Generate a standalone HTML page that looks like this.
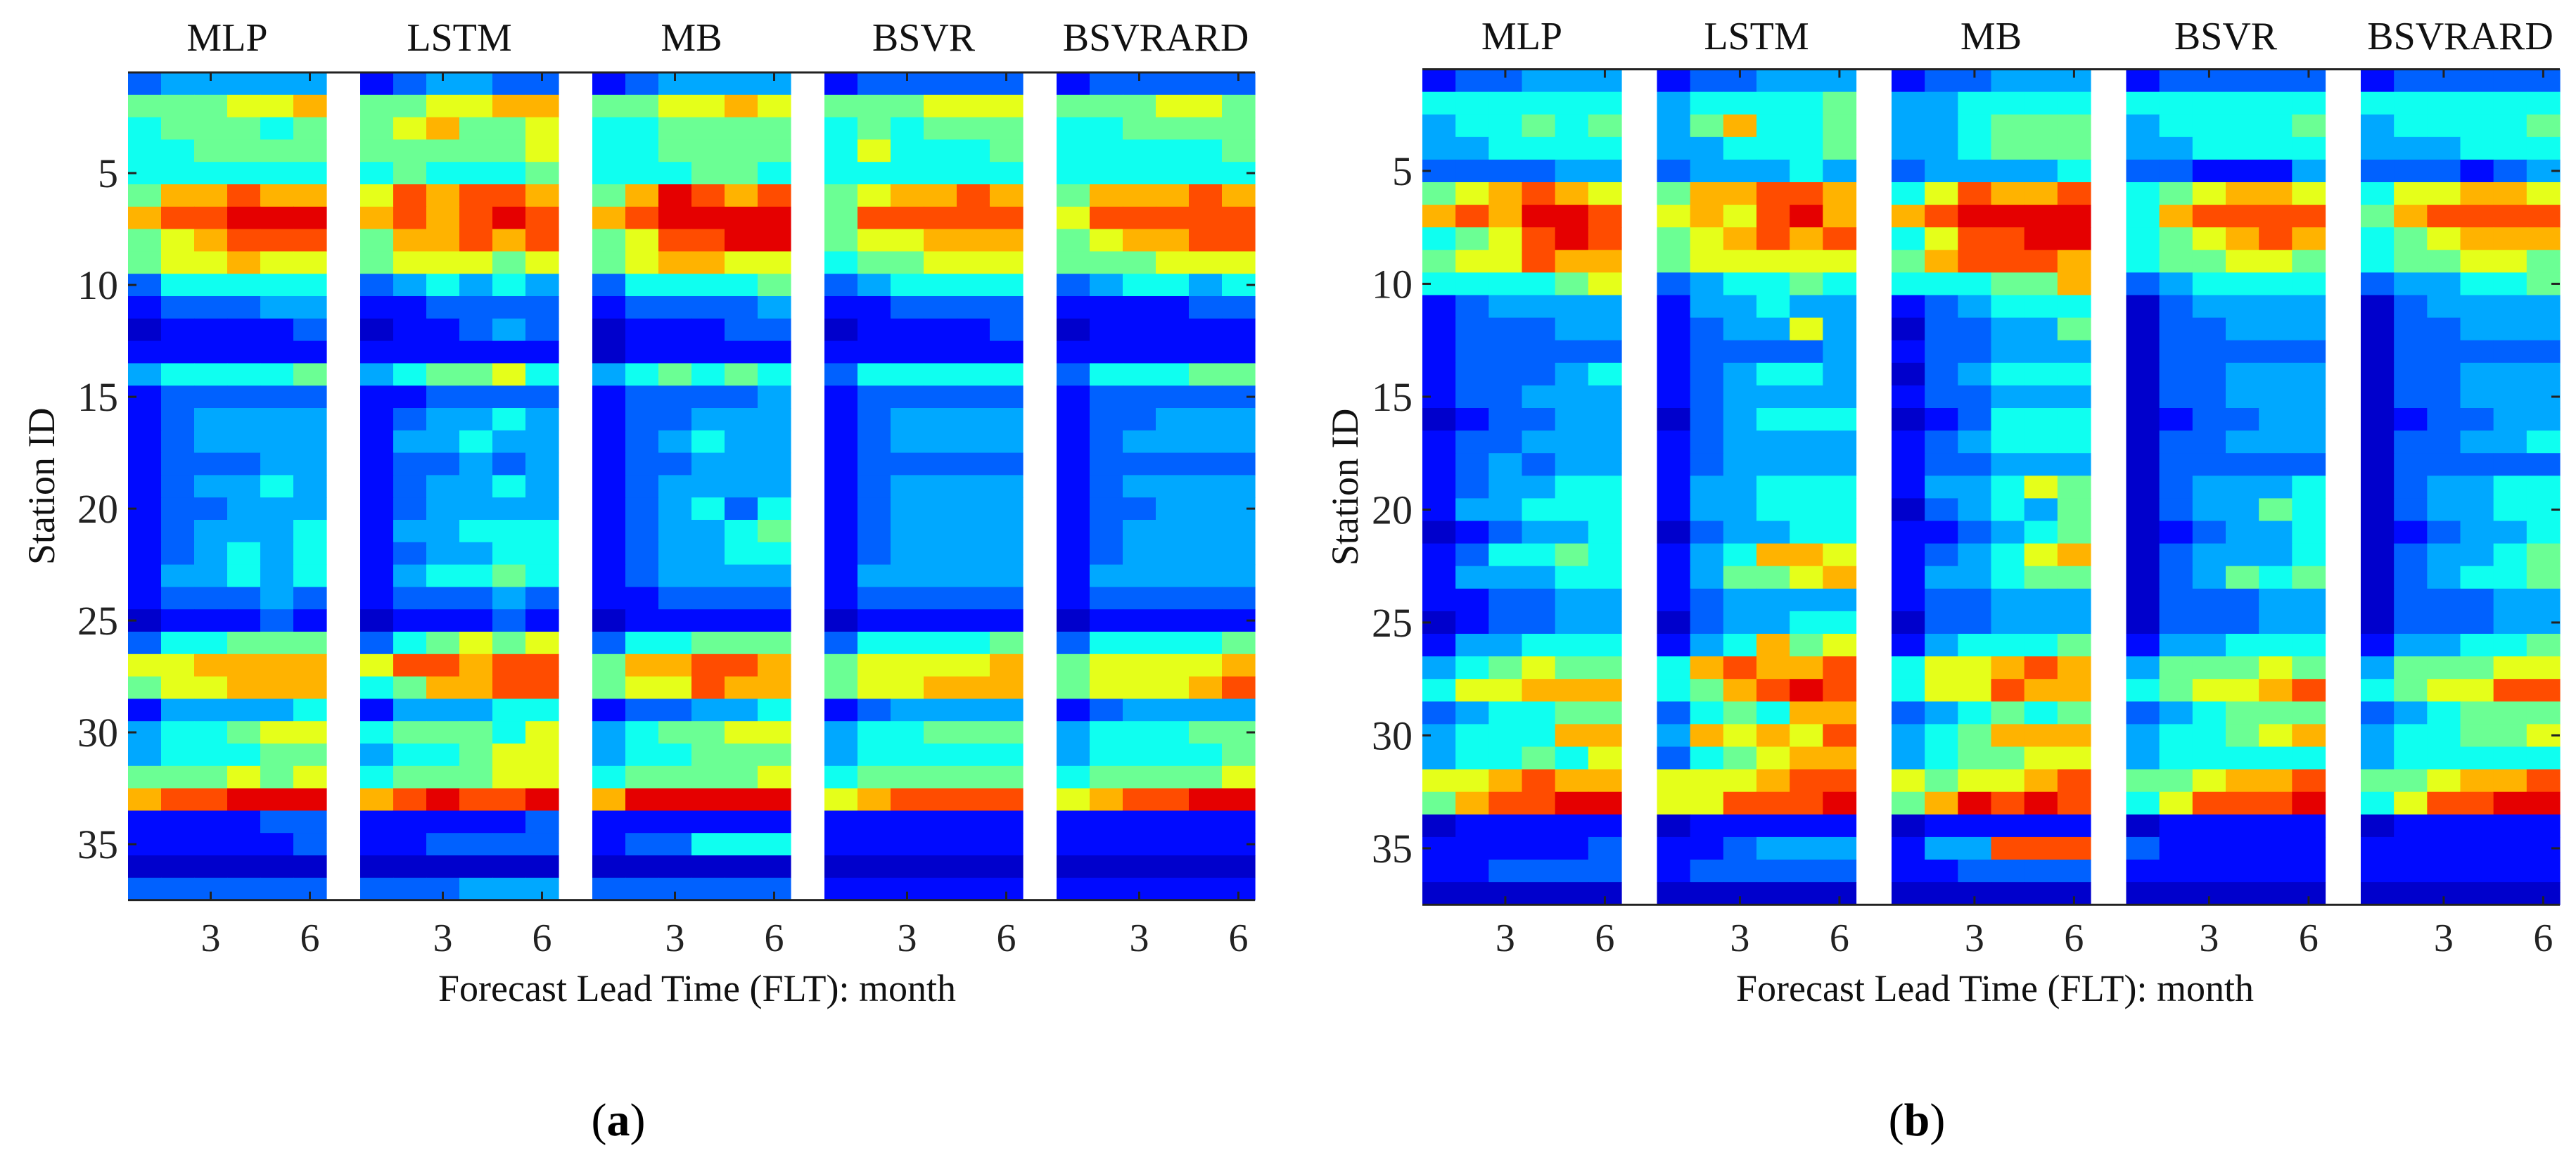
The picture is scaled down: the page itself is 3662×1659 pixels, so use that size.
<!DOCTYPE html>
<html><head><meta charset="utf-8">
<style>
html,body{margin:0;padding:0;background:#fff;}
svg{display:block;font-family:"Liberation Serif",serif;}
</style></head>
<body>
<svg id="fig" width="3662" height="1659" viewBox="0 0 3662 1659" xmlns="http://www.w3.org/2000/svg"></svg>
<script>
const models = ["MLP","LSTM","MB","BSVR","BSVRARD"];
const leadTimes = [1,2,3,4,5,6];
const xTickLabels = [3,6];
const yTickLabels = [5,10,15,20,25,30,35];
const panelLabels = ["(a)","(b)"];
const xAxisTitle = "Forecast Lead Time (FLT): month";
const yAxisTitle = "Station ID";

// Panel (a) values, levels 0-9, rows = stations 1..37, digits = lead times 1..6
const aMLP = ["233333","555667","455545","445555","444444","577877","788999","567888","566766","244444","122233","011112","111111","344445","122222","123333","123333","122233","123343","122333","123334","123434","133434","122232","011121","244555","667777","566777","133334","344566","344455","555656","788999","111122","111112","000000","222222"];
const aLSTM = ["123322","556677","567556","555556","454445","687887","787898","577878","566656","234343","112222","011232","111111","345564","112222","123343","133433","122323","123343","123333","133444","123344","134454","122232","011121","245656","688788","457788","133344","455546","344566","455566","789889","111112","112222","000000","222333"];
const aMB = ["123333","556676","445555","445555","444554","579878","789999","568899","567766","244445","122223","011122","011111","345454","122223","122333","123433","122333","123333","123424","123345","123344","123333","112222","011111","244555","577887","566877","122334","345566","344555","455556","799999","111111","122444","000000","222222"];
const aBSVR = ["122222","555666","454555","464445","444444","567787","588888","566777","455666","234444","112222","011112","111111","244444","122222","123333","123333","122222","123333","123333","123333","123333","133333","122222","011111","244445","566667","566777","123333","344555","344444","455555","678888","111111","111111","000000","111111"];
const aBSVRARD = ["122222","555665","445555","444445","444444","577787","688888","567788","555666","234434","111122","011111","111111","244455","122222","122333","123333","122222","123333","122333","123333","123333","133333","122222","011111","244445","566667","566678","123333","344455","344445","455556","678899","111111","111111","000000","111111"];
// Panel (b)
const bMLP = ["122333","444444","344545","334444","222233","567876","787998","456898","566877","444456","123333","122233","122222","122234","122333","012233","122333","123233","123344","133444","012334","124454","133344","112233","012233","133444","345655","466777","234455","344477","344546","667877","578899","011111","111112","112222","000000"];
const bLSTM = ["122333","344445","357445","334445","233343","577887","676897","567878","566666","234454","133433","123363","122223","123443","123333","023444","123333","123333","133444","133444","023344","134776","135567","123333","023344","134756","478778","457898","245477","376768","245677","666788","668889","011111","112333","122222","000000"];
const bMB = ["122333","334444","334555","334555","233334","468778","789999","468899","578887","444557","123444","022335","122333","023444","122333","012444","123444","122333","133465","023435","112345","123467","133455","122333","022333","134445","466787","466877","234545","345777","345566","656678","579898","011111","133888","112222","000000"];
const bBSVR = ["122222","444444","344445","334444","221113","456776","478888","456787","455665","234444","023333","022333","022222","022333","022333","012233","022333","022222","023334","023354","012334","023334","023545","022233","022233","133444","355565","456678","234555","344567","344444","556778","468889","011111","211111","111111","000000"];
const bBSVRARD = ["122222","444444","344445","333444","222123","466776","578888","456777","455665","233445","023333","022333","022222","022333","022333","012233","022334","022222","023344","023344","012334","023345","023445","022233","022233","133445","355566","456688","234555","344556","344444","556778","468899","011111","111111","111111","000000"];

const panelData = [[aMLP,aLSTM,aMB,aBSVR,aBSVRARD],[bMLP,bLSTM,bMB,bBSVR,bBSVRARD]];

const NS = "http://www.w3.org/2000/svg";
const svg = document.getElementById("fig");
function mk(tag, attrs, parent){
  const e = document.createElementNS(NS, tag);
  for (const k in attrs) e.setAttribute(k, attrs[k]);
  (parent||svg).appendChild(e);
  return e;
}
function jet(t){
  const r = Math.min(Math.max(Math.min(4*t-1.5, -4*t+4.5),0),1);
  const g = Math.min(Math.max(Math.min(4*t-0.5, -4*t+3.5),0),1);
  const b = Math.min(Math.max(Math.min(4*t+0.5, -4*t+2.5),0),1);
  return "rgb("+Math.round(r*255)+","+Math.round(g*255)+","+Math.round(b*255)+")";
}
const levelT = [0.075,0.135,0.22,0.29,0.39,0.48,0.6,0.7,0.8,0.9];
function levelColor(v){ return jet(levelT[v]); }

const layouts = [
  {left:182, pitch:330, w:282, top:103, rowH:31.8, tickRight:168, yTitleX:59, xTitleX:991, labelX:879, titleY:72},
  {left:2022, pitch:333.5, w:283, top:98.5, rowH:32.1, tickRight:2008, yTitleX:1912, xTitleX:2836, labelX:2725, titleY:70}
];
const nRows = 37;

layouts.forEach((L, p) => {
  const g = mk("g", {});
  
  
  const cellW = L.w / leadTimes.length;
  const yOf = s => L.top + (s-1)*L.rowH;
  const xOf = (m, lt) => L.left + m*L.pitch + (lt-1)*cellW;
  const bottom = yOf(nRows+1);
  const right = L.left + 4*L.pitch + L.w;

  models.forEach((name, m) => {
    const mg = mk("g", {}, g);
    
    
    const rows = panelData[p][m];
    rows.forEach((row, si) => {
      for (let li = 0; li < leadTimes.length; li++) {
        const v = parseInt(row[li], 10);
        const r = mk("rect", {x:xOf(m, leadTimes[li]).toFixed(2), y:yOf(si+1).toFixed(2), width:(cellW+0.6).toFixed(2), height:(L.rowH+0.6).toFixed(2), fill:levelColor(v)}, mg);
        
        
      }
    });
    const t = mk("text", {x:(L.left + m*L.pitch + L.w/2).toFixed(1), y:L.titleY, "font-size":56, "text-anchor":"middle", fill:"#111"}, g);
    t.textContent = name;
    
    
    xTickLabels.forEach(lt => {
      const cx = xOf(m, lt) + cellW/2;
      mk("line", {x1:cx, x2:cx, y1:L.top, y2:L.top+12, stroke:"#222", "stroke-width":3}, g);
      mk("line", {x1:cx, x2:cx, y1:bottom, y2:bottom-12, stroke:"#222", "stroke-width":3}, g);
      const tl = mk("text", {x:cx, y:1352, "font-size":56, "text-anchor":"middle", fill:"#222"}, g);
      tl.textContent = lt;
      
      
    });
  });
  mk("line", {x1:L.left, x2:right, y1:L.top, y2:L.top, stroke:"#222", "stroke-width":3}, g);
  mk("line", {x1:L.left, x2:right, y1:bottom, y2:bottom, stroke:"#222", "stroke-width":3}, g);
  yTickLabels.forEach(s => {
    const cy = yOf(s) + L.rowH/2;
    mk("line", {x1:L.left, x2:L.left+12, y1:cy, y2:cy, stroke:"#222", "stroke-width":3}, g);
    mk("line", {x1:right, x2:right-12, y1:cy, y2:cy, stroke:"#222", "stroke-width":3}, g);
    const tl = mk("text", {x:L.tickRight, y:cy+20, "font-size":58, "text-anchor":"end", fill:"#222"}, g);
    tl.textContent = s;
    
    
  });
  const yt = mk("text", {x:0, y:0, "font-size":54, "text-anchor":"middle", fill:"#111", transform:"translate("+(L.yTitleX+18)+","+((L.top+bottom)/2)+") rotate(-90)"}, g);
  yt.textContent = yAxisTitle;
  
  
  const xt = mk("text", {x:L.xTitleX, y:1423, "font-size":54, "text-anchor":"middle", fill:"#111"}, g);
  xt.textContent = xAxisTitle;
  
  
  const pl = mk("text", {x:L.labelX, y:1614, "font-size":66, "text-anchor":"middle", fill:"#000"}, g);
  const t1 = mk("tspan", {}, pl); t1.textContent = "(";
  const t2 = mk("tspan", {"font-weight":"bold"}, pl); t2.textContent = panelLabels[p].slice(1,2);
  const t3 = mk("tspan", {}, pl); t3.textContent = ")";
  
  
});
</script>
</body></html>
